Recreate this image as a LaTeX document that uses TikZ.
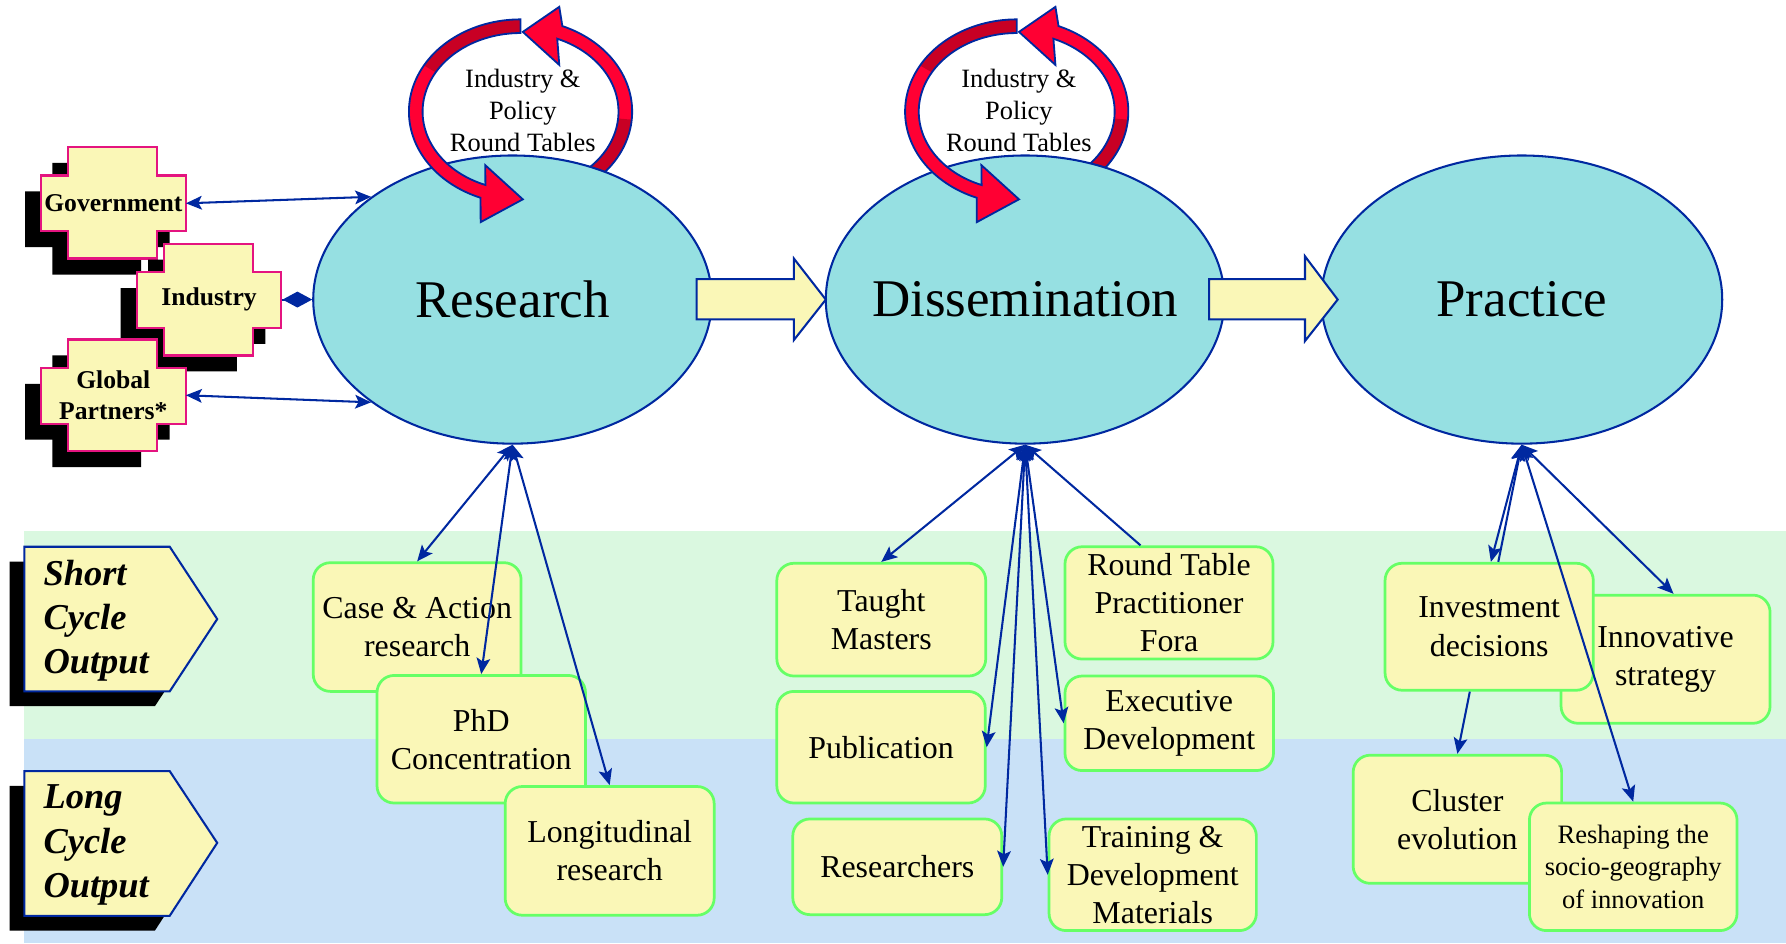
\documentclass[tikz,border=0pt]{standalone}
\usepackage{fontspec}
\setmainfont{Liberation Serif}
\usetikzlibrary{arrows.meta,shapes.geometric,calc}
\definecolor{dblue}{RGB}{0,40,160}
\definecolor{ellfill}{RGB}{150,224,226}
\definecolor{boxyellow}{RGB}{250,247,183}
\definecolor{boxgreen}{RGB}{102,255,102}
\definecolor{bandgreen}{RGB}{218,248,224}
\definecolor{bandblue}{RGB}{201,225,247}
\definecolor{redA}{RGB}{255,0,51}
\definecolor{redB}{RGB}{200,0,36}
\definecolor{pinkb}{RGB}{228,20,128}
\newcommand\crossat[3]{\path[#3] (#1,#2) ++(24,0) -- ++(78,0) -- ++(0,25) -- ++(25,0) -- ++(0,49) -- ++(-25,0) -- ++(0,24) -- ++(-78,0) -- ++(0,-24) -- ++(-24,0) -- ++(0,-49) -- ++(24,0) -- cycle;}
\newcommand\ribbonA[1]{%
  \path[#1] plot[domain=-55:68,samples=60] ({457+98*cos(\x)},{98-81*sin(\x)}) -- (491,6) -- (459,28) -- (491,57) -- plot[domain=68:-55,samples=60] ({457+86*cos(\x)},{98-69*sin(\x)}) -- cycle;}
\newcommand\ribbonAdark{%
  \fill[redB] plot[domain=-55:-5,samples=30] ({457+98*cos(\x)},{98-81*sin(\x)}) -- plot[domain=-5:-55,samples=30] ({457+86*cos(\x)},{98-69*sin(\x)}) -- cycle;}
\newcommand\ribbonB[1]{%
  \path[#1] plot[domain=90:249,samples=70] ({457+98*cos(\x)},{98-81*sin(\x)}) -- (422,195) -- (459,175) -- (426,145) -- plot[domain=249:90,samples=70] ({457+86*cos(\x)},{98-69*sin(\x)}) -- cycle;}
\newcommand\ribbonBdark{%
  \fill[redB] plot[domain=90:150,samples=30] ({457+98*cos(\x)},{98-81*sin(\x)}) -- plot[domain=150:90,samples=30] ({457+86*cos(\x)},{98-69*sin(\x)}) -- cycle;}
\tikzset{
  bigell/.style={ellipse, draw=dblue, line width=1.8pt, fill=ellfill, minimum width=350pt, minimum height=253pt, inner sep=0pt, font=\fontsize{46.5}{50}\selectfont},
  outbox/.style={draw=boxgreen, line width=2.4pt, fill=boxyellow, rounded corners=15pt, inner sep=0pt, align=center, font=\fontsize{28}{33.5}\selectfont},
  crosslabel/.style={inner sep=0pt, minimum width=127pt, minimum height=49pt, align=center, font=\fontsize{22.5}{28}\selectfont\bfseries},
  cyclelabel/.style={inner sep=0pt, anchor=west, align=left, font=\fontsize{32}{39}\selectfont\bfseries\itshape},
  looplabel/.style={inner sep=0pt, align=center, font=\fontsize{23.2}{27.8}\selectfont},
  blockarrow/.style={fill=boxyellow, draw=dblue, line width=1.8pt, line join=miter},
  conn/.style={draw=dblue, line width=1.8pt},
  loopline/.style={draw=dblue, line width=1.6pt, line join=miter}
}
\begin{document}
\begin{tikzpicture}[x=1pt,y=-1pt,>={Stealth[length=14pt,width=12pt,inset=3pt]}]
\useasboundingbox (0,0) rectangle (1568,828);
% bands
\fill[bandgreen] (21.4,466) rectangle (1568,649);
\fill[bandblue] (21.4,649) rectangle (1568,828);

% cycle labels
\path[fill=black] (8.4,493) -- (136,493) -- (177.7,556.5) -- (136,620) -- (8.4,620) -- cycle;
\path[fill=boxyellow,draw=dblue,line width=1.8pt] (21.4,480) -- (149,480) -- (190.7,543.5) -- (149,607) -- (21.4,607) -- cycle;
\node[cyclelabel] (short) at (38,545) {Short\\Cycle\\Output};
\path[fill=black] (8.4,690) -- (136,690) -- (177.7,753) -- (136,817) -- (8.4,817) -- cycle;
\path[fill=boxyellow,draw=dblue,line width=1.8pt] (21.4,677) -- (149,677) -- (190.7,740) -- (149,804) -- (21.4,804) -- cycle;
\node[cyclelabel] (long) at (38,742) {Long\\Cycle\\Output};

% loops behind ellipses
\ribbonA{fill=redA}
\ribbonAdark
\ribbonA{loopline}
\begin{scope}[xshift=435.6pt]
\ribbonA{fill=redA}
\ribbonAdark
\ribbonA{loopline}
\end{scope}

% ellipses
\node[bigell] (research) at (450,263) {\makebox[0pt]{Research}};
\node[bigell] (dissem) at (900,263) {\makebox[0pt]{Dissemination}};
\node[bigell, minimum width=352pt] (practice) at (1336,263) {\makebox[0pt]{Practice}};

% front loops
\ribbonB{fill=redA}
\ribbonBdark
\ribbonB{loopline}
\begin{scope}[xshift=435.6pt]
\ribbonB{fill=redA}
\ribbonBdark
\ribbonB{loopline}
\end{scope}
\node[looplabel] (rt1) at (459,97) {Industry \&\\Policy\\Round Tables};
\node[looplabel] (rt2) at (894.5,97) {Industry \&\\Policy\\Round Tables};

% block arrows
\path[blockarrow] (611.6,245) -- (697,245) -- (697,227) -- (725,263) -- (697,298.5) -- (697,280.4) -- (611.6,280.4) -- cycle;
\path[blockarrow] (1061.5,245) -- (1145.7,245) -- (1145.7,225) -- (1174.4,263) -- (1145.7,299.4) -- (1145.7,280.4) -- (1061.5,280.4) -- cycle;

% crosses
\crossat{22}{143}{fill=black}
\crossat{36}{129}{fill=boxyellow,draw=pinkb,line width=2pt}
\node[crosslabel] (gov) at (99.5,178.5) {Government};
\crossat{106}{228}{fill=black}
\crossat{120}{214}{fill=boxyellow,draw=pinkb,line width=2pt}
\node[crosslabel] (ind) at (183.5,263) {Industry};
\crossat{22}{312}{fill=black}
\crossat{36}{298}{fill=boxyellow,draw=pinkb,line width=2pt}
\node[crosslabel] (glob) at (99.5,347) {Global\\Partners*};

\draw[conn,<->] (gov.east) -- (research.144);
\draw[conn,<->] (glob.east) -- (research.216);
\draw[conn,-{Diamond[length=26pt,width=14pt]}] (ind.east) -- (research.west);

% research outputs
\node[outbox, minimum width=182.5pt, minimum height=113pt] (case) at (366.25,550.5) {Case \& Action\\research};
\node[outbox, minimum width=183pt, minimum height=112pt] (phd) at (422.5,649) {PhD\\Concentration};
\node[outbox, minimum width=183.5pt, minimum height=113pt] (longi) at (535.25,747) {Longitudinal\\research};

% dissemination outputs
\node[outbox, minimum width=183.4pt, minimum height=99pt] (taught) at (773.7,544) {Taught\\Masters};
\node[outbox, minimum width=183pt, minimum height=98pt] (publ) at (773.5,656) {Publication};
\node[outbox, minimum width=183.5pt, minimum height=84pt] (resr) at (787.75,761) {Researchers};
\node[outbox, minimum width=182.6pt, minimum height=98.6pt] (rtpf) at (1026.3,529.3) {Round Table\\Practitioner\\Fora};
\node[outbox, minimum width=183pt, minimum height=83pt] (exec) at (1026.5,635) {Executive\\Development};
\node[outbox, minimum width=182pt, minimum height=98pt] (train) at (1012,768) {Training \&\\Development\\Materials};

% practice outputs
\node[outbox, minimum width=183.5pt, minimum height=112.5pt] (innov) at (1462.25,578.75) {Innovative\\strategy};
\node[outbox, minimum width=182.8pt, minimum height=111.5pt] (inv) at (1307.4,550.25) {Investment\\decisions};
\node[outbox, minimum width=183pt, minimum height=112.5pt] (clus) at (1279.5,719.25) {Cluster\\evolution};
\node[outbox, minimum width=182.3pt, minimum height=112pt, font=\fontsize{23.3}{28.5}\selectfont] (resh) at (1433.85,761) {Reshaping the\\socio-geography\\of innovation};

% connectors research
\draw[conn,<->] (research.south) -- (case.north);
\draw[conn,<->] (research.south) -- (phd.north);
\draw[conn,<->] (research.south) -- (longi.north);

% connectors dissemination
\draw[conn,<->] (dissem.south) -- (taught.north);
\draw[conn,<->] (dissem.south) -- (publ.east);
\draw[conn,<->] (dissem.south) -- (resr.east);
\draw[conn,->] ([xshift=-25pt]rtpf.north) -- (dissem.south);
\draw[conn,<->] (dissem.south) -- (exec.west);
\draw[conn,<->] (dissem.south) -- (train.west);

% connectors practice
\draw[conn,<->] (practice.south) -- ([xshift=1.5pt]inv.north);
\draw[conn,->] ([xshift=8pt]inv.north) -- (practice.south);
\draw[conn,<->] (practice.south) -- ([xshift=7pt]innov.north);
\draw[conn,->] ([xshift=-17pt]inv.south) -- (clus.north);
\draw[conn,<->] (practice.south) -- (resh.north);
\end{tikzpicture}
\end{document}
